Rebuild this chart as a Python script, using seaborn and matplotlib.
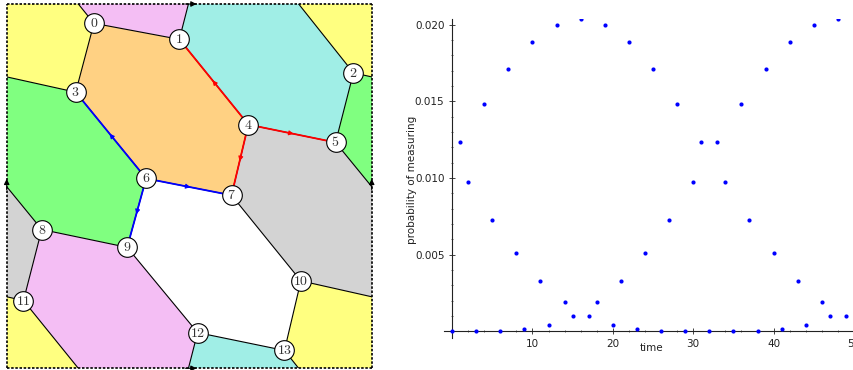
import numpy as np
import matplotlib
matplotlib.use("Agg")
import matplotlib.pyplot as plt
from matplotlib.patches import Polygon
import seaborn as sns

sns.set_theme(style="white")
plt.rcParams['font.family'] = ['DejaVu Sans']
plt.rcParams['mathtext.fontset'] = 'cm'

# --- graph on the torus: vertex positions in the unit square ---
vx = [0.239, 0.473, 0.950, 0.189, 0.662, 0.901, 0.382, 0.616, 0.096, 0.330, 0.806, 0.046, 0.523, 0.761]
vy = [0.947, 0.903, 0.811, 0.758, 0.669, 0.620, 0.521, 0.475, 0.381, 0.332, 0.240, 0.186, 0.098, 0.049]

# edges: (a, b, shift of b)
edges = [(0, 1, (0, 0)), (0, 3, (0, 0)), (0, 11, (0, 1)), (1, 4, (0, 0)), (1, 12, (0, 1)),
         (2, 5, (0, 0)), (2, 13, (0, 1)), (2, 3, (1, 0)), (3, 6, (0, 0)), (4, 5, (0, 0)),
         (4, 7, (0, 0)), (5, 8, (1, 0)), (6, 7, (0, 0)), (6, 9, (0, 0)), (7, 10, (0, 0)),
         (8, 9, (0, 0)), (8, 11, (0, 0)), (9, 12, (0, 0)), (10, 13, (0, 0)), (10, 11, (1, 0)),
         (12, 13, (0, 0))]

# faces: list of (vertex, shift)
faces = {
    'orange': [(0, (0, 0)), (1, (0, 0)), (4, (0, 0)), (7, (0, 0)), (6, (0, 0)), (3, (0, 0))],
    'cyan': [(1, (0, 0)), (4, (0, 0)), (5, (0, 0)), (2, (0, 0)), (13, (0, 1)), (12, (0, 1))],
    'yellow': [(0, (0, 0)), (3, (0, 0)), (2, (-1, 0)), (13, (-1, 1)), (10, (-1, 1)), (11, (0, 1))],
    'green': [(3, (0, 0)), (6, (0, 0)), (9, (0, 0)), (8, (0, 0)), (5, (-1, 0)), (2, (-1, 0))],
    'gray': [(4, (0, 0)), (5, (0, 0)), (8, (1, 0)), (11, (1, 0)), (10, (0, 0)), (7, (0, 0))],
    'white': [(6, (0, 0)), (7, (0, 0)), (10, (0, 0)), (13, (0, 0)), (12, (0, 0)), (9, (0, 0))],
    'pink': [(9, (0, 0)), (12, (0, 0)), (1, (0, -1)), (0, (0, -1)), (11, (0, 0)), (8, (0, 0))],
}
face_colors = {'orange': '#ffd183', 'cyan': '#a0eee6', 'yellow': '#ffff80', 'green': '#80ff80',
               'gray': '#d3d3d3', 'white': '#ffffff', 'pink': '#f4bef4'}

# directed coloured edges (from, to)
red_path = [(4, 1), (4, 5), (4, 7)]
blue_path = [(6, 3), (6, 7), (6, 9)]

# --- probability of measuring over time ---
times = list(range(50))
probs = [0.0, 0.01233, 0.00975, 0.00002, 0.01485, 0.00727, 0.00002, 0.01711, 0.0051, 0.00013,
         0.01887, 0.0033, 0.00043, 0.0200, 0.00193, 0.001, 0.0204, 0.001, 0.00193, 0.0200,
         0.00043, 0.0033, 0.01887, 0.00013, 0.0051, 0.01711, 0.00002, 0.00727, 0.01485, 0.00002,
         0.00975, 0.01233, 0.0, 0.01233, 0.00975, 0.00002, 0.01485, 0.00727, 0.00002, 0.01711,
         0.0051, 0.00013, 0.01887, 0.0033, 0.00043, 0.0200, 0.00193, 0.001, 0.0204, 0.001]

fig = plt.figure(figsize=(8.54, 3.70), dpi=100)

# ---------------- left panel ----------------
ax1 = fig.add_axes([6.7 / 854, 1 - 368.3 / 370, 365 / 854, 364.3 / 370])
ax1.set_xlim(0, 1)
ax1.set_ylim(0, 1)
ax1.axis('off')

shifts = [(sx, sy) for sx in (-1, 0, 1) for sy in (-1, 0, 1)]
for name, verts in faces.items():
    pts = np.array([(vx[v] + s[0], vy[v] + s[1]) for v, s in verts])
    for sx, sy in shifts:
        ax1.add_patch(Polygon(pts + [sx, sy], closed=True, facecolor=face_colors[name],
                              edgecolor='none', zorder=1))

for a, b, s in edges:
    for sx, sy in shifts:
        ax1.plot([vx[a] + sx, vx[b] + s[0] + sx], [vy[a] + sy, vy[b] + s[1] + sy],
                 color='black', lw=0.8, zorder=2)


def draw_directed(path, color):
    for a, b in path:
        x0, y0, x1, y1 = vx[a], vy[a], vx[b], vy[b]
        ax1.plot([x0, x1], [y0, y1], color=color, lw=1.3, zorder=3)
        mx, my = (x0 + x1) / 2, (y0 + y1) / 2
        dx, dy = (x1 - x0) * 0.02, (y1 - y0) * 0.02
        ax1.annotate('', xy=(mx + dx, my + dy), xytext=(mx - dx, my - dy),
                     arrowprops=dict(arrowstyle='-|>', color=color, lw=0.8,
                                     mutation_scale=7, shrinkA=0, shrinkB=0), zorder=4)


draw_directed(red_path, 'red')
draw_directed(blue_path, 'blue')

# torus border with identification arrows
for xs, ys in [([0, 1], [0, 0]), ([0, 1], [1, 1]), ([0, 0], [0, 1]), ([1, 1], [0, 1])]:
    ax1.plot(xs, ys, color='black', lw=1.2, ls=(0, (1.5, 1)), zorder=5, clip_on=False)
for (x0, y0), (x1, y1) in [((0.49, 0), (0.52, 0)), ((0.49, 1), (0.52, 1)),
                           ((0, 0.49), (0, 0.52)), ((1, 0.49), (1, 0.52))]:
    ax1.annotate('', xy=(x1, y1), xytext=(x0, y0),
                 arrowprops=dict(arrowstyle='-|>', color='black', lw=0.8,
                                 mutation_scale=8, shrinkA=0, shrinkB=0),
                 zorder=6, annotation_clip=False)

ax1.scatter(vx, vy, s=200, facecolor='white', edgecolor='black', linewidth=0.8, zorder=7)
for i, (x, y) in enumerate(zip(vx, vy)):
    ax1.text(x, y, f'${i}$', ha='center', va='center', fontsize=10, color='#333333', zorder=8)

# ---------------- right panel ----------------
ax2 = fig.add_axes([444 / 854, 1 - 338 / 370, 410 / 854, (338 - 18.6) / 370])
sns.scatterplot(x=times, y=probs, ax=ax2, color='blue', s=9, linewidth=0, zorder=3)
ax2.set_xlim(-1, 50)
ax2.set_ylim(-0.00043, max(probs))
ax2.spines['left'].set_position(('data', 0))
ax2.spines['bottom'].set_position(('data', 0))
ax2.spines['right'].set_visible(False)
ax2.spines['top'].set_visible(False)
for sp in ('left', 'bottom'):
    ax2.spines[sp].set_color('#222222')
    ax2.spines[sp].set_linewidth(0.8)
ax2.set_xticks([10, 20, 30, 40, 50])
ax2.set_xticks(np.arange(2, 50, 2), minor=True)
ax2.set_yticks([0.005, 0.010, 0.015, 0.020])
ax2.set_yticklabels(['0.005', '0.010', '0.015', '0.020'])
ax2.set_yticks(np.arange(0.001, 0.0205, 0.001), minor=True)
ax2.tick_params(which='major', direction='inout', length=4, width=0.6, labelsize=7.5,
                colors='#222222', bottom=True, left=True)
ax2.tick_params(which='minor', direction='inout', length=2, width=0.5, bottom=True, left=True,
                colors='#222222')
ax2.set_xlabel('')
ax2.set_ylabel('')
ax2.text(0.507, -0.03, 'time', transform=ax2.transAxes, ha='center', va='center',
         fontsize=7.5, color='#222222')
ax2.text(-0.078, 0.495, 'probability of measuring', transform=ax2.transAxes, ha='center',
         va='center', rotation=90, fontsize=7.5, color='#222222')

fig.savefig('out.png', dpi=100)
